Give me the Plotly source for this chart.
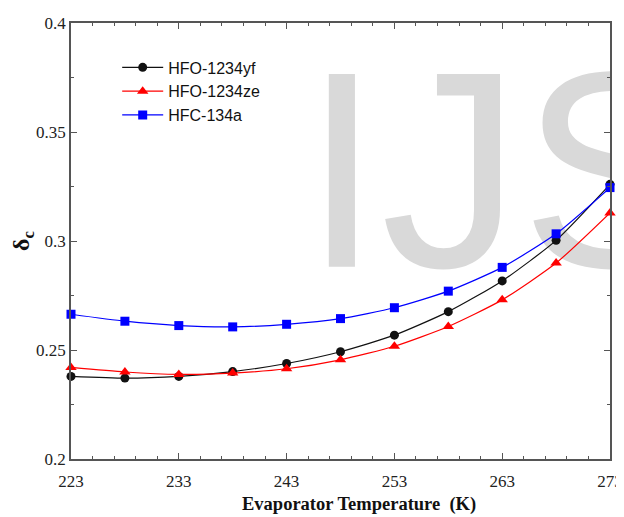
import plotly.graph_objects as go

temps = [223, 228, 233, 238, 243, 248, 253, 258, 263, 268, 273]
hfo_yf = [0.2379, 0.2371, 0.2379, 0.2401, 0.2438, 0.2492, 0.2568, 0.2676, 0.2817, 0.3003, 0.3260]
hfo_ze = [0.2420, 0.2399, 0.2388, 0.2394, 0.2414, 0.2455, 0.2517, 0.2608, 0.2730, 0.2899, 0.3129]
hfc_134a = [0.2664, 0.2632, 0.2612, 0.2606, 0.2618, 0.2644, 0.2694, 0.2770, 0.2879, 0.3033, 0.3245]

x_ticks = [223, 233, 243, 253, 263, 273]
y_ticks = [0.2, 0.25, 0.3, 0.35, 0.4]
y_tick_text = ["0.2", "0.25", "0.3", "0.35", "0.4"]

SERIF = "Liberation Serif, Times New Roman, serif"

fig = go.Figure()

# watermark
fig.add_trace(go.Scatter(
    x=[244.52], y=[0.3203], mode="text", text=["IJS"],
    textposition="middle right",
    textfont=dict(family="Liberation Sans", size=280, color="#d9d9d9"),
    cliponaxis=True, showlegend=False, hoverinfo="skip"))

series = [
    ("HFO-1234yf", hfo_yf, "#111111", "circle", 9),
    ("HFO-1234ze", hfo_ze, "#ff0000", "triangle-up", 10),
    ("HFC-134a", hfc_134a, "#0000ff", "square", 9),
]
for name, vals, col, sym, sz in series:
    fig.add_trace(go.Scatter(
        x=temps, y=vals, name=name, mode="lines+markers",
        line=dict(color=col, width=1.2, shape="spline", smoothing=0.6),
        marker=dict(color=col, symbol=sym, size=sz),
        cliponaxis=False))

axis_common = dict(
    showline=True, linecolor="#555555", linewidth=1.5, mirror="ticks",
    ticks="inside", ticklen=6, tickwidth=1, tickcolor="#555555",
    showgrid=False, zeroline=False, automargin=False,
    ticklabeloverflow="allow",
    tickfont=dict(family=SERIF, size=17, color="#222222"),
)

fig.update_xaxes(
    range=[223, 273], tickvals=x_ticks, ticklabelstandoff=6,
    minor=dict(dtick=2, tick0=223, ticks="inside", ticklen=3, tickcolor="#555555"),
    **axis_common)
fig.update_yaxes(
    range=[0.2, 0.4], tickvals=y_ticks, ticktext=y_tick_text,
    minor=dict(dtick=0.025, tick0=0.2, ticks="inside", ticklen=3, tickcolor="#555555"),
    title=dict(text="<b>δ<sub>c</sub></b>",
               font=dict(family=SERIF, size=24, color="#111111"),
               standoff=2),
    **axis_common)

fig.add_annotation(
    text="<b>Evaporator Temperature  (K)</b>",
    xref="paper", yref="paper", x=0.5346, y=-0.1055,
    xanchor="center", yanchor="middle", showarrow=False,
    font=dict(family=SERIF, size=18.5, color="#111111"))

fig.update_layout(
    width=616, height=509,
    margin=dict(l=63, r=14, t=15, b=58),
    paper_bgcolor="white", plot_bgcolor="white",
    font=dict(family=SERIF),
    showlegend=True,
    legend=dict(x=0.0857, y=0.937, xanchor="left", yanchor="top",
                bgcolor="rgba(0,0,0,0)",
                font=dict(family="Liberation Sans", size=16, color="#111111"),
                itemwidth=41),
)

fig.write_html("out.html")
